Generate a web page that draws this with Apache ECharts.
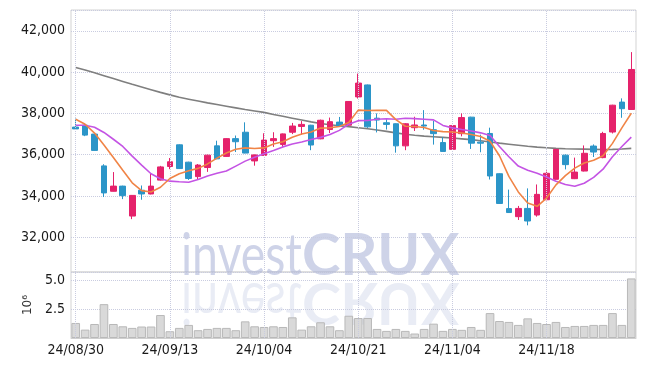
<!DOCTYPE html>
<html><head><meta charset="utf-8">
<script src="https://cdn.jsdelivr.net/npm/echarts@6/dist/echarts.min.js"></script>
<style>html,body{margin:0;padding:0;background:#fff}#c{width:645px;height:366px}</style>
</head><body><div id="c"></div>
<script>
const dates = ['24/08/30','24/09/02','24/09/03','24/09/04','24/09/05','24/09/06','24/09/09','24/09/10','24/09/11','24/09/12',
'24/09/13','24/09/19','24/09/20','24/09/23','24/09/24','24/09/25','24/09/26','24/09/27','24/09/30','24/10/02',
'24/10/04','24/10/07','24/10/08','24/10/10','24/10/11','24/10/14','24/10/15','24/10/16','24/10/17','24/10/18',
'24/10/21','24/10/22','24/10/23','24/10/24','24/10/25','24/10/28','24/10/29','24/10/30','24/10/31','24/11/01',
'24/11/04','24/11/05','24/11/06','24/11/07','24/11/08','24/11/11','24/11/12','24/11/13','24/11/14','24/11/15',
'24/11/18','24/11/19','24/11/20','24/11/21','24/11/22','24/11/25','24/11/26','24/11/27','24/11/28','24/11/29'];
const opens = [37340,37430,37000,35460,34230,34480,33030,34280,34100,34770,
35430,36480,35640,34940,35380,36430,35920,36780,37090,35700,
35970,36680,36500,37090,37370,37430,36770,37220,37580,37430,
38800,39380,37770,37550,37500,36430,37310,37440,37210,36590,
36260,37020,37820,36610,37030,35080,33390,33000,33400,33080,
33820,34810,35980,34840,35210,36420,35860,37100,38550,38190];
const closes = [37250,36950,36210,34150,34480,34020,34030,34100,34480,35410,
35660,35330,34850,35500,35980,35800,36780,36630,36080,35990,
36710,36780,37010,37390,37470,36470,37670,37600,37380,38580,
39470,37350,37680,37470,36430,37500,37440,37390,37020,36160,
37410,37800,36560,36560,34970,33640,33200,33400,32790,34080,
35100,36260,35520,35160,36070,36130,37030,38400,38230,40130];
const lows = [37230,36900,36190,33950,34220,33850,32880,33820,34080,34750,
35300,35320,34780,34780,35170,35790,35900,36130,36070,35470,
35950,36380,36380,37000,36970,36220,36750,37050,37350,37400,
38720,37300,37080,37220,36100,36220,37150,37210,36490,36150,
36240,36890,36280,36120,34800,33620,33180,32840,32580,33000,
33800,34790,35290,34820,35190,35890,35830,37030,37790,38170];
const highs = [37750,37500,37020,35540,35160,34500,34050,34510,35100,35460,
35840,36500,35660,35550,36000,36680,36800,36930,37570,36010,
37040,37090,37030,37540,37630,37450,37700,37800,37830,38600,
39930,39400,38000,37720,37520,37530,37840,38160,37640,36850,
37440,38000,37840,36970,37310,35100,34310,33520,34370,34560,
35240,36280,36010,35860,36450,36500,37110,38420,38730,40970];
const ma5 = [37720,37475,37050,36475,35870,35246,34640,34262,34197,34426,
34850,35082,35223,35339,35554,35835,36083,36264,36330,36300,
36330,36520,36628,36850,37000,37100,37290,37310,37370,37560,
38160,38140,38150,38150,37700,37380,37370,37320,37170,37120,
37100,37050,36980,36880,36650,35950,34950,34200,33660,33500,
33900,34540,34990,35350,35600,35730,35950,36550,37300,38010];
const ma10 = [37430,37430,37330,37080,36750,36400,35930,35500,35080,34840,
34720,34690,34670,34800,34970,35100,35210,35450,35690,35880,
36050,36200,36380,36520,36620,36740,36840,36980,37180,37480,
37650,37660,37720,37740,37720,37770,37750,37720,37690,37420,
37300,37220,37150,37060,36930,36400,35900,35450,35250,35100,
34920,34720,34560,34470,34620,34900,35300,35900,36400,36850];
const maLong = [40230,40100,39970,39830,39690,39550,39410,39280,39150,39020,
38900,38780,38690,38600,38510,38430,38350,38270,38190,38120,
38050,37950,37860,37770,37680,37590,37510,37450,37400,37360,
37310,37260,37200,37130,37060,36990,36940,36900,36870,36840,
36810,36770,36730,36680,36620,36560,36510,36460,36410,36370,
36340,36310,36290,36280,36270,36260,36250,36260,36280,36310];
const volumes = [1.31,0.73,1.22,2.95,1.22,1.02,0.88,1.0,1.0,2.0,
0.59,0.88,1.14,0.68,0.79,0.88,0.88,0.68,1.45,1.02,
0.96,1.02,0.96,1.8,0.73,1.02,1.37,1.02,0.68,1.94,
1.74,1.74,0.79,0.62,0.79,0.62,0.39,0.79,1.25,0.62,
0.79,0.71,0.96,0.71,2.17,1.48,1.40,1.14,1.71,1.31,
1.22,1.40,0.96,1.05,1.05,1.14,1.14,2.17,1.14,5.19];

const FONT = '"DejaVu Sans Condensed","Liberation Sans Narrow",sans-serif';
const GRIDC = '#c9cce0';
const labelDates = dates.filter((d, i) => i % 10 === 0);
const vLines = labelDates.map(d => ({xAxis: d}));
const ohlc = dates.map((d, i) => [opens[i], closes[i], lows[i], highs[i]]);

const chart = echarts.init(document.getElementById('c'), null, {renderer: 'canvas'});
const wmColor = 'rgba(170,180,215,0.58)';
const wmRef = 'rgba(170,180,215,0.26)';
const wm = (txt, weight, align, sx, flip) => ({
  type: 'text', z: 0, silent: true, x: 302, y: 285, scaleX: sx, scaleY: flip ? -1 : 1, originX: 0, originY: -6,
  style: {text: txt, fill: flip ? wmRef : wmColor, font: weight + ' 58px Lato, sans-serif', align: align, verticalAlign: 'bottom'}
});
chart.setOption({
  animation: false,
  graphic: [
    wm('invest', 'normal', 'right', 0.8, false),
    wm('CRUX', 'bold', 'left', 1, false),
    wm('invest', 'normal', 'right', 0.8, true),
    wm('CRUX', 'bold', 'left', 1, true)
  ],
  grid: [
    {left: 71, right: 9, top: 10, height: 262, show: true, borderColor: '#d3d3d3', borderWidth: 1},
    {left: 71, right: 9, top: 272, height: 66, show: true, borderColor: '#d3d3d3', borderWidth: 1}
  ],
  xAxis: [
    {type: 'category', gridIndex: 0, data: dates, boundaryGap: true,
     axisLine: {show: false}, axisTick: {show: false}, axisLabel: {show: false}, splitLine: {show: false}},
    {type: 'category', gridIndex: 1, data: dates, boundaryGap: true,
     axisLine: {show: true, lineStyle: {color: '#cfcfcf'}}, axisTick: {show: false},
     axisLabel: {interval: 9, color: '#1a1a1a', fontSize: 14, fontFamily: FONT, margin: 5}, splitLine: {show: false}}
  ],
  yAxis: [
    {type: 'value', gridIndex: 0, min: 30320, max: 43010, splitNumber: 6, scale: true,
     axisLine: {show: false}, axisTick: {show: false},
     axisLabel: {color: '#1a1a1a', fontSize: 14, fontFamily: FONT, margin: 6,
       formatter: v => (v % 2000 === 0 ? v.toLocaleString('en-US') : '')},
     splitLine: {show: true, lineStyle: {type: 'dotted', color: GRIDC}}},
    {type: 'value', gridIndex: 1, min: 0, max: 5.75, interval: 2.5,
     name: '10⁶', nameLocation: 'middle', nameRotate: 90, nameGap: 36,
     nameTextStyle: {color: '#333', fontSize: 12, fontFamily: 'DejaVu Sans'},
     axisLine: {show: false}, axisTick: {show: false},
     axisLabel: {color: '#1a1a1a', fontSize: 14, fontFamily: FONT, margin: 6,
       formatter: v => ((v === 2.5 || v === 5) ? v.toFixed(1) : '')},
     splitLine: {show: true, lineStyle: {type: 'dotted', color: GRIDC}}}
  ],
  series: [
    {type: 'line', xAxisIndex: 0, yAxisIndex: 0, data: [], z: 1, silent: true,
     markLine: {symbol: 'none', silent: true, label: {show: false}, lineStyle: {type: 'dotted', color: GRIDC, width: 1}, data: vLines}},
    {type: 'line', xAxisIndex: 1, yAxisIndex: 1, data: [], z: 1, silent: true,
     markLine: {symbol: 'none', silent: true, label: {show: false}, lineStyle: {type: 'dotted', color: GRIDC, width: 1}, data: vLines}},
    {type: 'line', name: 'MAlong', xAxisIndex: 0, yAxisIndex: 0, data: maLong, symbol: 'none', z: 3,
     lineStyle: {color: '#7f7f7f', width: 1.6}},
    {type: 'candlestick', xAxisIndex: 0, yAxisIndex: 0, data: ohlc, barWidth: '66%', z: 4,
     itemStyle: {color: '#e5226b', color0: '#2b95c8', borderColor: '#e5226b', borderColor0: '#2b95c8', borderWidth: 1}},
    {type: 'line', name: 'MA10', xAxisIndex: 0, yAxisIndex: 0, data: ma10, symbol: 'none', z: 5,
     lineStyle: {color: '#c454e4', width: 1.6}},
    {type: 'line', name: 'MA5', xAxisIndex: 0, yAxisIndex: 0, data: ma5, symbol: 'none', z: 5,
     lineStyle: {color: '#f08446', width: 1.6}},
    {type: 'bar', xAxisIndex: 1, yAxisIndex: 1, data: volumes, barCategoryGap: '8%', z: 3,
     itemStyle: {color: '#d9d9d9', borderColor: '#b9b9b9', borderWidth: 1}}
  ]
});
</script></body></html>
